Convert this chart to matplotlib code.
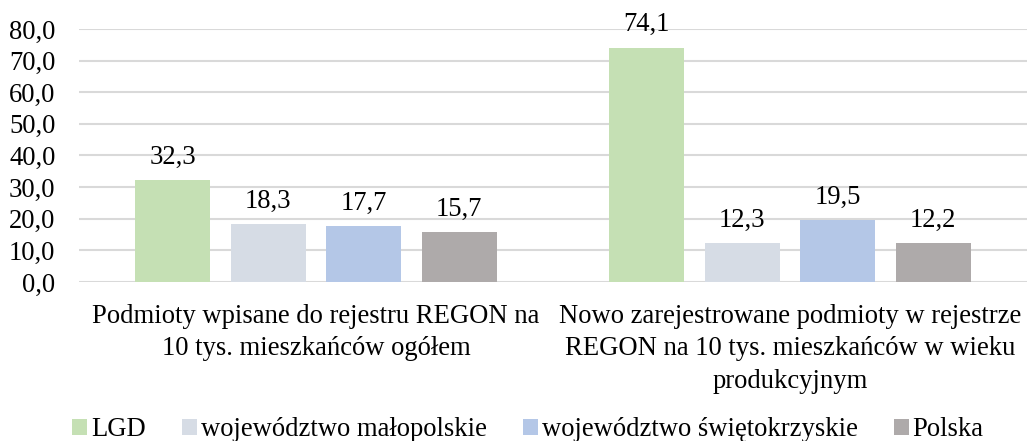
import matplotlib.pyplot as plt
import numpy as np

# Data
categories = [
    "Podmioty wpisane do rejestru REGON na\n10 tys. mieszkańców ogółem",
    "Nowo zarejestrowane podmioty w rejestrze\nREGON na 10 tys. mieszkańców w wieku\nprodukcyjnym",
]
series_names = ["LGD", "województwo małopolskie", "województwo świętokrzyskie", "Polska"]
lgd = [32.3, 74.1]
malopolskie = [18.3, 12.3]
swietokrzyskie = [17.7, 19.5]
polska = [15.7, 12.2]
yticks = [0, 10, 20, 30, 40, 50, 60, 70, 80]

colors = ["#C5E0B4", "#D6DCE5", "#B4C7E7", "#AEAAAA"]

plt.rcParams['font.family'] = ['Liberation Serif', 'DejaVu Serif']
fs = 19.2

fig = plt.figure(figsize=(10.27, 4.41), dpi=100)
ax = fig.add_axes([79 / 1027, 159 / 441, 948 / 1027, 253 / 441])

x = np.arange(len(categories))
width = 0.158
step = 0.2015
all_series = [lgd, malopolskie, swietokrzyskie, polska]

for i, (vals, name, c) in enumerate(zip(all_series, series_names, colors)):
    offs = x + (i - 1.5) * step
    bars = ax.bar(offs, vals, width, color=c, label=name, zorder=3)
    for b, v in zip(bars, vals):
        ax.annotate(f"{v:.1f}".replace(".", ","),
                    (b.get_x() + b.get_width() / 2, v),
                    xytext=(0, 7.5), textcoords="offset points",
                    ha="center", va="bottom", fontsize=fs)

ax.set_xlim(-0.5, 1.5)
ax.set_ylim(0, 80)
ax.set_yticks(yticks)
ax.set_yticklabels([f"{t:.1f}".replace(".", ",") for t in yticks], fontsize=fs)
ax.set_xticks(x)
ax.set_xticklabels(categories, fontsize=fs, linespacing=1.4)
ax.tick_params(axis="both", length=0)
ax.tick_params(axis="y", pad=17)
ax.tick_params(axis="x", pad=15.5)
for s in ax.spines.values():
    s.set_visible(False)
ax.grid(axis="y", color="#D9D9D9", linewidth=1.5, zorder=0)
ax.set_axisbelow(True)

fig.legend(loc="center", bbox_to_anchor=(528 / 1027, 1 - 430 / 441), ncol=4, frameon=False,
           prop={'family': ['Liberation Serif'], 'size': fs},
           handlelength=0.56, handleheight=0.55, handletextpad=0.15,
           columnspacing=1.35)

fig.savefig("out.png", dpi=100)
